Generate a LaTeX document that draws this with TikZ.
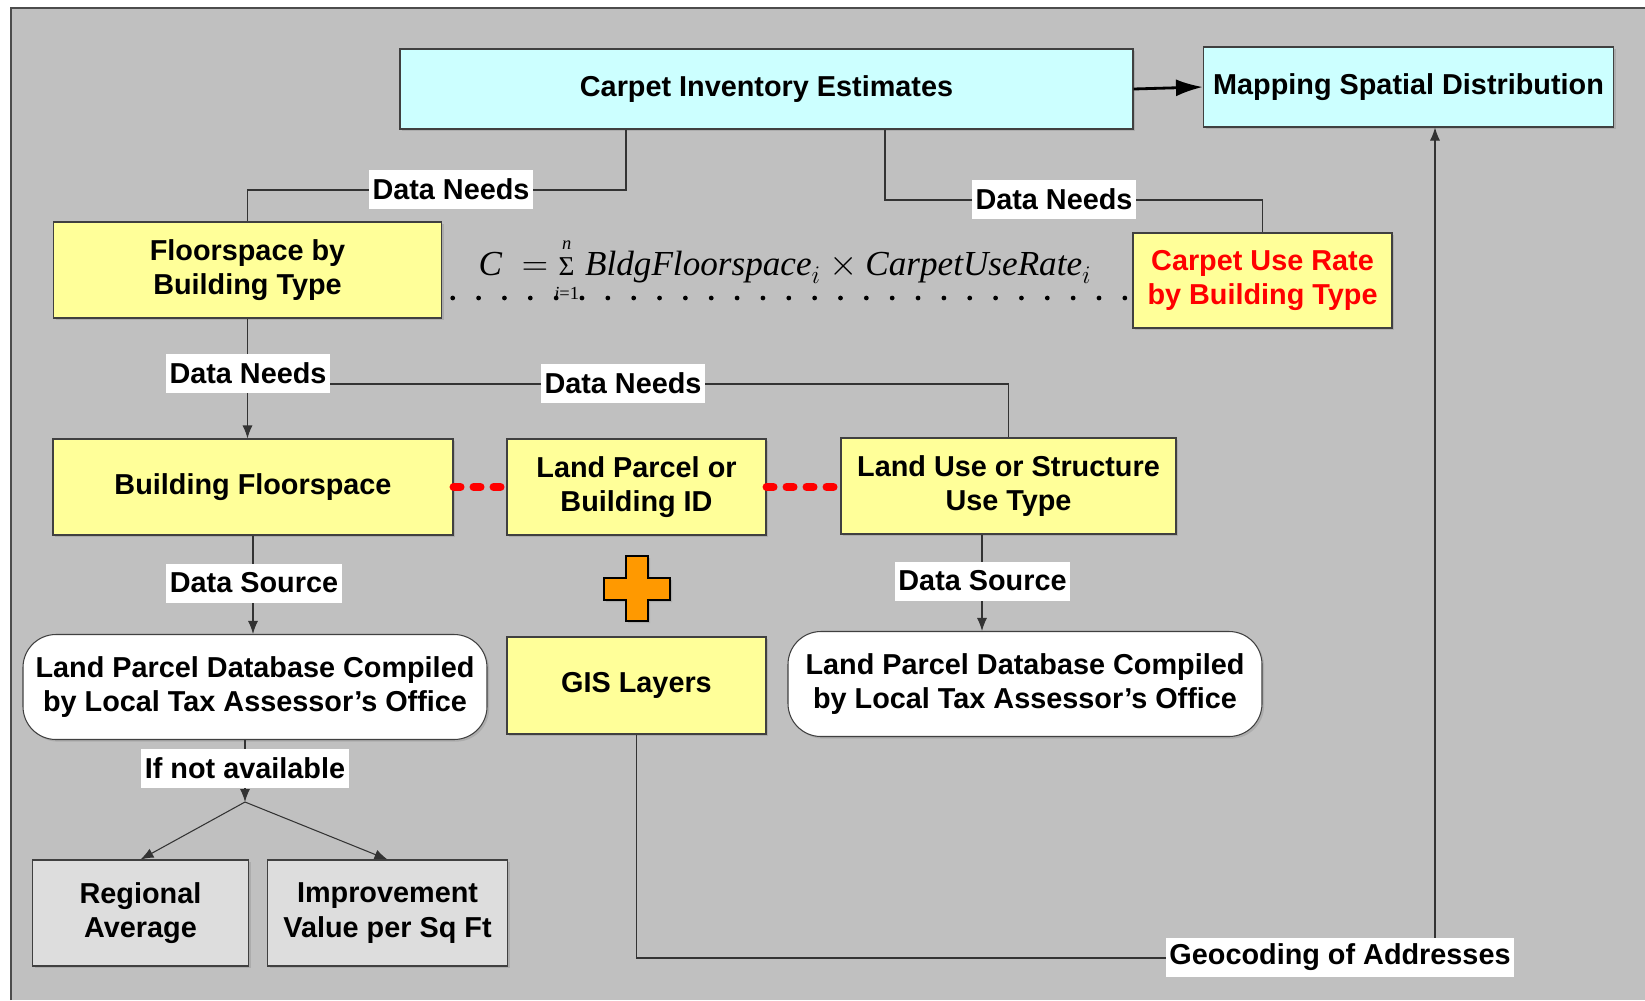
\documentclass[tikz,border=0pt]{standalone}
\usepackage{fontspec}
\setmainfont{Liberation Sans}
\newfontfamily\eqfont{Liberation Serif}
\usepackage{tikz}
\usetikzlibrary{positioning,arrows.meta,shadows}
\definecolor{skyfill}{HTML}{CCFFFF}
\definecolor{lemonfill}{HTML}{FFFF99}
\definecolor{ashfill}{HTML}{DDDDDD}
\definecolor{panelgrey}{HTML}{C0C0C0}
\definecolor{plusorange}{HTML}{FF9900}
\tikzset{blk/.style={rectangle,draw=black!75,line width=0.6pt,align=center,inner sep=2pt,font=\bfseries\fontsize{16.4}{19.5}\selectfont,drop shadow={shadow xshift=1.2pt,shadow yshift=-1.2pt,opacity=0.3}}}
\tikzset{cy/.style={blk,fill=skyfill},ye/.style={blk,fill=lemonfill},gr/.style={blk,fill=ashfill},rnd/.style={blk,fill=white,rounded corners=0.66cm}}
\tikzset{lab/.style={fill=white,inner xsep=2pt,inner ysep=0pt,minimum height=0.78cm,font=\bfseries\fontsize{16.4}{19.5}\selectfont}}
\tikzset{reddash/.style={red,line width=0.16cm,dash pattern=on 0.14cm off 0.26cm,line cap=round}}
\tikzset{dots/.style={black,line width=0.095cm,dash pattern=on 0pt off 0.517cm,dash phase=0.303cm,line cap=round}}
\newcommand{\eqit}[1]{\mbox{\eqfont\itshape #1}}
\newcommand{\eqsmall}[1]{\mbox{\eqfont\fontsize{10.5}{10.5}\selectfont #1}}

\begin{document}
\begin{tikzpicture}[x=0.2mm,y=-0.2mm,line width=0.6pt,>={Latex[length=0.26cm,width=0.2cm]}]
        \useasboundingbox (0,0) rectangle (1645,1000);
        \fill[panelgrey] (11,8) rectangle (1645,1000);
        \draw[black!70,line width=1pt] (11,1000) -- (11,8) -- (1645,8);

        \node[cy,minimum width=14.66cm,minimum height=1.6cm] (cie) at (766.5,89) {Carpet Inventory Estimates};
        \node[cy,minimum width=8.2cm,minimum height=1.6cm] (map) at (1408.5,87) {Mapping Spatial Distribution};
        \node[ye,minimum width=7.76cm,minimum height=1.92cm] (fbt) at (247.5,270) {Floorspace by\\Building Type};
        \node[ye,text=red,minimum width=5.18cm,minimum height=1.9cm] (cur) at (1262.5,280.5) {Carpet Use Rate\\by Building Type};
        \node[ye,minimum width=8cm,minimum height=1.92cm] (bfs) at (253,487) {Building Floorspace};
        \node[ye,minimum width=5.18cm,minimum height=1.92cm] (lpid) at (636.5,487) {Land Parcel or\\Building ID};
        \node[ye,minimum width=6.7cm,minimum height=1.92cm] (luse) at (1008.5,486) {Land Use or Structure\\Use Type};
        \node[ye,minimum width=5.18cm,minimum height=1.94cm] (gis) at (636.5,685.5) {GIS Layers};
        \node[rnd,minimum width=9.28cm,minimum height=2.1cm] (lpdb1) at (255,687) {Land Parcel Database Compiled\\by Local Tax Assessor’s Office};
        \node[rnd,minimum width=9.48cm,minimum height=2.1cm] (lpdb2) at (1025,684) {Land Parcel Database Compiled\\by Local Tax Assessor’s Office};
        \node[gr,minimum width=4.32cm,minimum height=2.12cm] (reg) at (140.5,913) {Regional\\Average};
        \node[gr,minimum width=4.8cm,minimum height=2.12cm] (imp) at (387.5,913) {Improvement\\Value per Sq Ft};
        \coordinate (fork) at (245,802);

        \draw[fill=plusorange,draw=black,line width=0.8pt,drop shadow={shadow xshift=1.2pt,shadow yshift=-1.2pt,opacity=0.3}] (626,556) -- (648,556) -- (648,578) -- (670,578) -- (670,600) -- (648,600) -- (648,621) -- (626,621) -- (626,600) -- (604,600) -- (604,578) -- (626,578) -- cycle;

        \node[anchor=base west,inner sep=0pt,font=\fontsize{20}{24}\selectfont] (eq) at (478,275) {$\eqit{C}\hspace{0.4cm}{=}\mathop{\mbox{\eqfont\fontsize{15.5}{16}\selectfont Σ}}\limits_{\eqsmall{\itshape i\upshape=1}\rule{0pt}{12pt}}^{\eqsmall{\itshape n}\rule[-3pt]{0pt}{3pt}}\eqit{BldgFloorspace}_{i}\times\eqit{CarpetUseRate}_{i}$};

        \draw [black!80] (cie.south -| 626,0) -- (626,190) -| (fbt.north);
        \draw [black!80] (cie.south -| 885,0) -- (885,200) -| (cur.north);
        \draw [line width=1.6pt,-{Latex[length=0.54cm,width=0.34cm]}] (cie.east) -- (map.west);
        \draw [dots] (fbt.east |- 0,298) -- (cur.west |- 0,298);
        \draw [black!80,->] (fbt.south) -- (fbt.south |- bfs.north);
        \draw [black!80] (fbt.south |- 0,384) -| (luse.north);
        \draw [reddash] (bfs.east |- 0,487) -- (lpid.west |- 0,487);
        \draw [reddash] (lpid.east |- 0,487) -- (luse.west |- 0,487);
        \draw [black!80,->] (bfs.south) -- (bfs.south |- lpdb1.north);
        \draw [black!80,->] (luse.south -| 982,0) -- (lpdb2.north -| 982,0);
        \draw [black!80,->] (lpdb1.south -| fork) -- (fork);
        \draw [black!80,->] (fork) -- (reg.north);
        \draw [black!80,->] (fork) -- (imp.north);
        \draw [black!80,->] (gis.south) |- (1435,958) -- (map.south -| 1435,0);

        \node[lab] (dn1) at (451,189) {Data Needs};
        \node[lab] (dn2) at (1054,199) {Data Needs};
        \node[lab] (dn3) at (248,373) {Data Needs};
        \node[lab] (dn4) at (623,383) {Data Needs};
        \node[lab] (ds1) at (254,583) {Data Source};
        \node[lab] (ds2) at (982.5,581) {Data Source};
        \node[lab] (na) at (245,768) {If not available};
        \node[lab] (geo) at (1340,957) {Geocoding of Addresses};
    \end{tikzpicture}
\end{document}
